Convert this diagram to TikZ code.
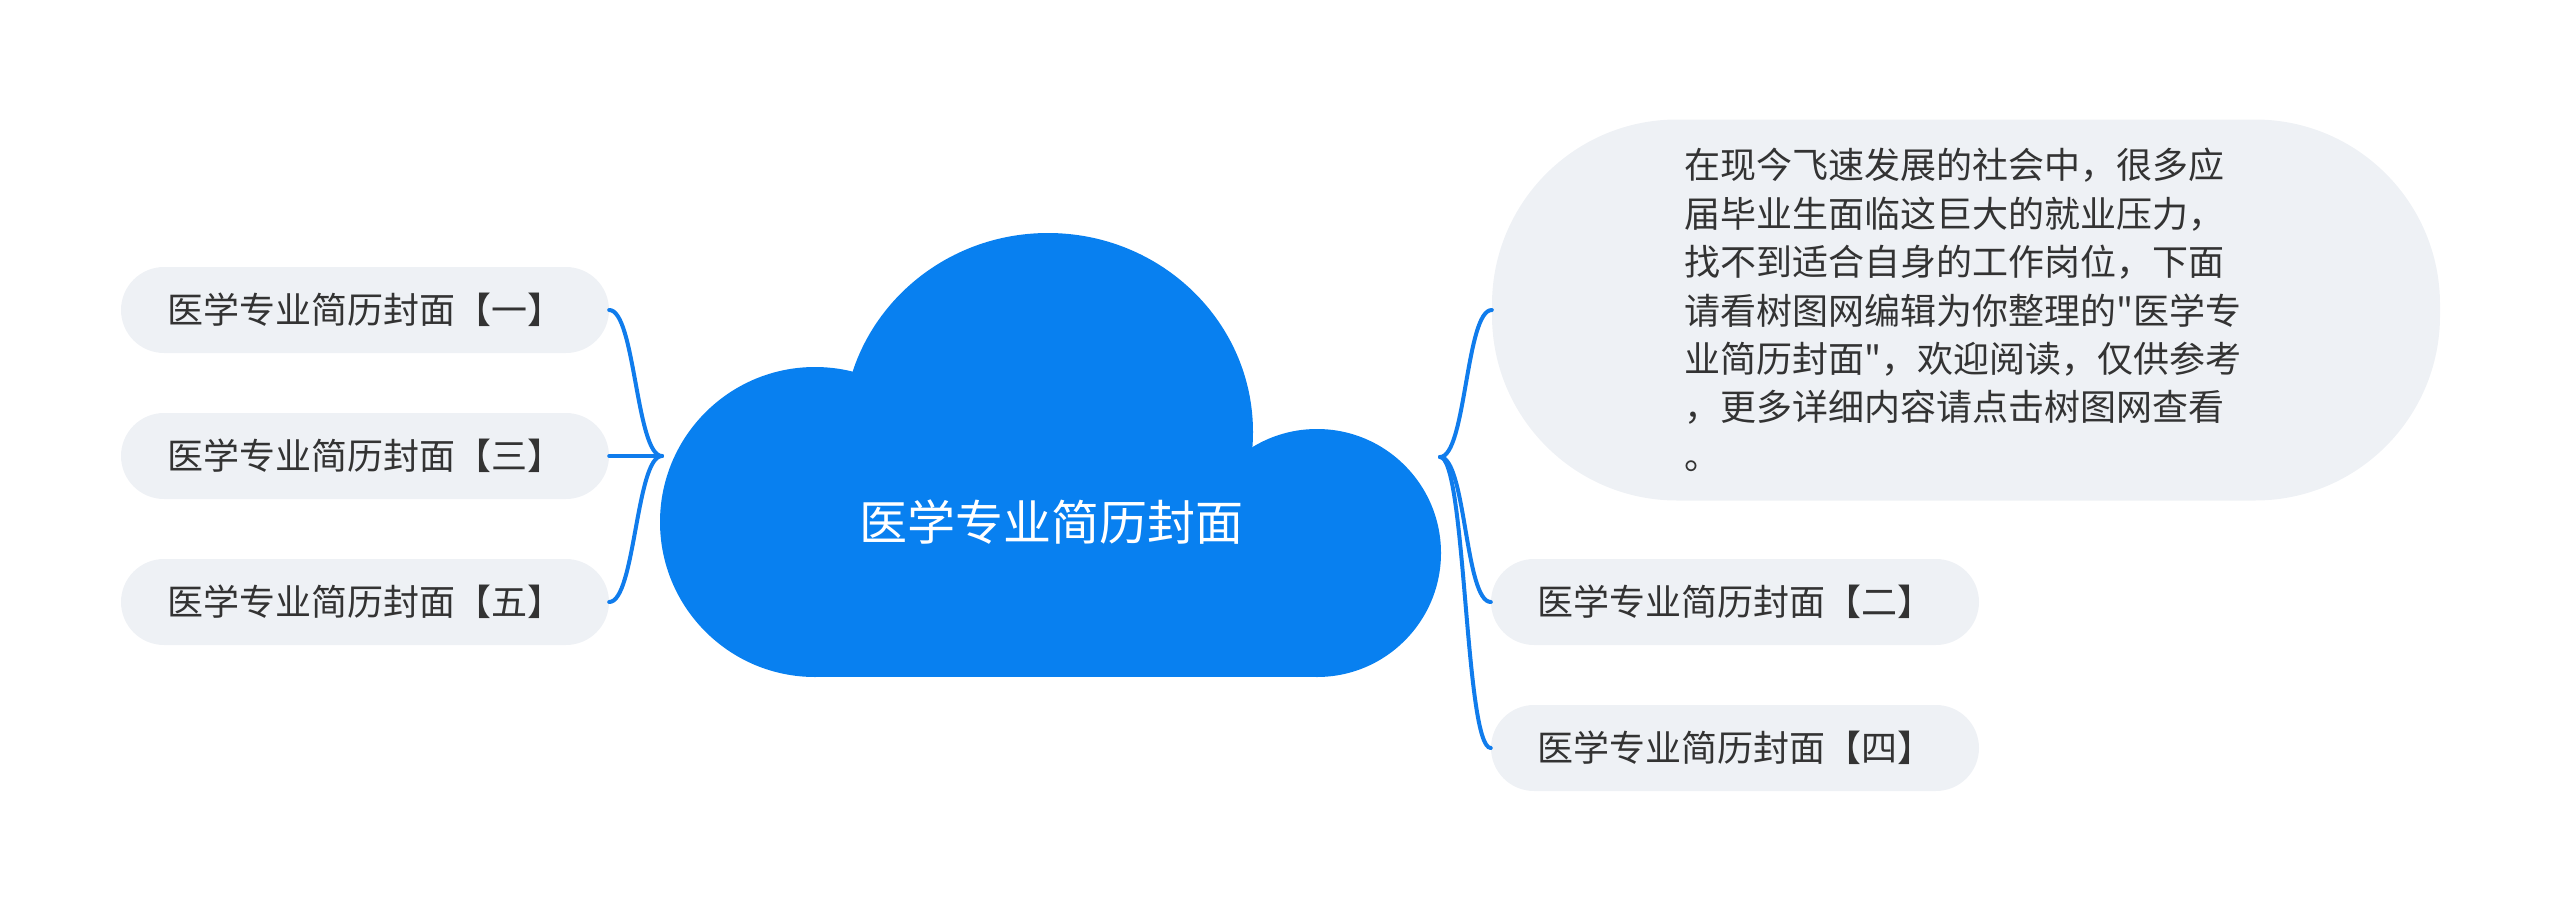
\documentclass[tikz,border=0pt]{standalone}
\usepackage{fontspec}
\setmainfont{Noto Sans CJK SC}[Ligatures=TeXOff]
\definecolor{cloudblue}{RGB}{8,128,240}
\definecolor{linkblue}{RGB}{16,124,236}
\definecolor{nodegray}{RGB}{238,241,245}
\definecolor{textgray}{RGB}{51,51,51}

\begin{document}
\begin{tikzpicture}[x=1pt,y=-1pt]
\tikzset{
  topic/.style={rectangle,rounded corners=43pt,fill=nodegray,minimum width=488pt,minimum height=86pt,inner sep=0pt,text=textgray,font=\fontsize{36pt}{48.4pt}\selectfont},
  intro/.style={topic,rounded corners=185pt,minimum width=948pt,minimum height=381pt,align=left,text width=564pt},
  link/.style={line width=4pt,draw=linkblue,line cap=round}
}
\useasboundingbox (0,0) rectangle (2560,913);
% cloud
\fill[cloudblue] (815,522) circle (155pt);
\fill[cloudblue] (1048,432) ellipse (205pt and 199pt);
\fill[cloudblue] (1317,553) circle (124pt);
\fill[cloudblue] (815,460) rectangle (1317,677);
\node[text=white,font=\fontsize{48pt}{56pt}\selectfont] (n_root) at (1051,522) {医学专业简历封面};
% left branches
\node[topic] (n_b1) at (365,310) {医学专业简历封面【一】};
\node[topic] (n_b3) at (365,456) {医学专业简历封面【三】};
\node[topic] (n_b5) at (365,602) {医学专业简历封面【五】};
% right branches
\node[intro] (n_intro) at (1966,310) {在现今飞速发展的社会中，很多应\\届毕业生面临这巨大的就业压力，\\找不到适合自身的工作岗位，下面\\请看树图网编辑为你整理的"医学专\\业简历封面"，欢迎阅读，仅供参考\\，更多详细内容请点击树图网查看\\。};
\node[topic] (n_b2) at (1735,602) {医学专业简历封面【二】};
\node[topic] (n_b4) at (1735,748) {医学专业简历封面【四】};
\coordinate (n_lj) at (662,456);
\coordinate (n_rj) at (1440,457);
\draw[link] (n_b1.east) .. controls +(26,0) and +(-26,0) .. (n_lj);
\draw[link] (n_b3.east) -- (n_lj);
\draw[link] (n_b5.east) .. controls +(26,0) and +(-26,0) .. (n_lj);
\draw[link] (n_rj) .. controls +(26,0) and +(-26,0) .. (n_intro.west);
\draw[link] (n_rj) .. controls +(26,0) and +(-26,0) .. (n_b2.west);
\draw[link] (n_rj) .. controls +(26,0) and +(-26,0) .. (n_b4.west);
\end{tikzpicture}
\end{document}
